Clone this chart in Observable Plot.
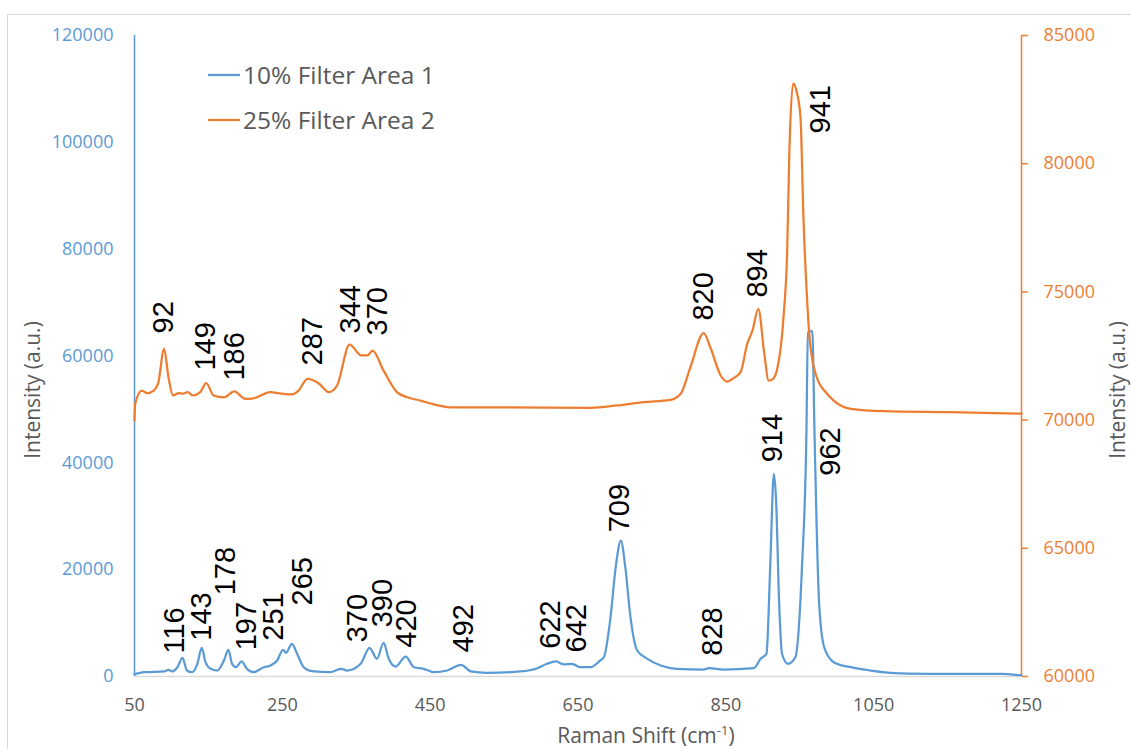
<!DOCTYPE html>
<html>
<head>
<meta charset="utf-8">
<script src="https://cdn.jsdelivr.net/npm/d3@7"></script>
<script src="https://cdn.jsdelivr.net/npm/@observablehq/plot@0.6"></script>
<style>
  html, body { margin: 0; padding: 0; background: white; }
  #wrap { position: relative; width: 1131px; height: 749px; overflow: hidden; }
  #frame { position: absolute; left: 7px; top: 14px; width: 1200px; height: 800px;
           border-left: 1px solid #d9d9d9; border-top: 1px solid #d9d9d9; }
  #chart { position: absolute; left: 0; top: 0; }
</style>
</head>
<body>
<div id="wrap"><div id="frame"></div><div id="chart"></div></div>
<script>
// ---- Series 1: 10% Filter Area 1 (left axis) ----
const blueShift = [50,63,90,96,101,108,115,121,128,135,141,146,153,162,171,177,182,187,195,202,211,225,234,243,251,255,263,270,279,290,315,329,338,356,368,378,387,394,403,417,428,441,450,455,473,492,505,527,572,595,608,620,631,642,653,667,680,685,694,701,708,714,721,730,744,762,784,820,827,847,888,897,905,910,915,918,922,926,934,944,953,959,961,967,970,976,983,996,1019,1046,1086,1154,1222,1250];
const blueIntensity = [400,800,940,1250,940,1740,3500,1120,800,2380,5370,2680,1440,1120,3000,5000,2380,1740,2810,1440,800,1740,2060,3000,5000,4440,6120,4250,1740,990,800,1440,1120,2380,5370,3310,6310,3310,1870,3740,1740,1440,990,800,1120,2190,940,690,940,1550,2380,2810,2250,2380,1740,1740,3000,3610,11100,20460,25460,20460,11100,4870,3310,2060,1440,1310,1550,1310,1550,3310,4250,20460,37950,32950,14230,4250,2380,3610,20460,45430,64450,64640,45430,14230,5490,2680,1740,1120,600,500,470,190];

// ---- Series 2: 25% Filter Area 2 (right axis) ----
const orangeShift = [50,51,60,67,76,82,90,96,102,110,115,122,129,139,147,157,171,185,200,211,234,243,263,272,284,299,313,324,341,357,365,372,387,405,419,437,455,477,667,703,739,775,789,802,820,829,843,852,861,870,879,886,894,902,908,914,919,928,933,936,941,946,951,955,960,964,973,987,996,1019,1064,1154,1250];
const orangeIntensity = [69980,70650,71150,71050,71150,71430,72780,71670,70960,71050,71030,71090,70960,71090,71440,70960,70890,71120,70830,70850,71090,71050,71000,71150,71610,71440,71090,71350,72940,72520,72520,72710,71930,71090,70890,70760,70610,70500,70480,70570,70700,70790,71030,72060,73390,72840,71740,71500,71650,71870,72980,73490,74340,72590,71540,71610,71930,74010,76610,80510,83120,82790,81810,77910,74660,72980,71670,71030,70760,70440,70350,70310,70250];

// ---- Peak labels ----
const blueLabelText = ["116","143","178","197","251","265","370","390","420","492","622","642","709","828","914","962"];
const blueLabelX    = [104,141,174,202,239,277,352,386,418,495,613,648,707,832,913,992];
const blueLabelY    = [4300,6700,15200,4900,6700,13300,6400,9200,5400,4500,5200,4500,27000,3900,40100,37600];

const orangeLabelText = ["92","149","186","287","344","370","820","894","941"];
const orangeLabelX    = [89,146,185,291,342,379,820,893,978];
const orangeLabelY    = [73380,71930,71540,72130,73380,73300,73880,74780,81180];

// ---- Axes ----
const xTicks = [50,250,450,650,850,1050,1250];
const leftTicks = [0,20000,40000,60000,80000,100000,120000];
const rightTicks = [60000,65000,70000,75000,80000,85000];
const rightDomain = [60000,85000];
const leftDomain = [0,120000];

const seriesNames = ["10% Filter Area 1","25% Filter Area 2"];
const colors = ["#5B9BD5","#ED7D31"];

// map secondary-axis values onto the primary y scale
const k = (leftDomain[1]-leftDomain[0])/(rightDomain[1]-rightDomain[0]);
const toLeft = v => (v - rightDomain[0]) * k;
const fromLeft = v => v / k + rightDomain[0];

const blue = blueShift.map((x,i)=>({x, y: blueIntensity[i]}));
const orange = orangeShift.map((x,i)=>({x, y: toLeft(orangeIntensity[i])}));
const blueLabels = blueLabelText.map((t,i)=>({t, x: blueLabelX[i], y: blueLabelY[i]}));
const orangeLabels = orangeLabelText.map((t,i)=>({t, x: orangeLabelX[i], y: toLeft(orangeLabelY[i])}));

const chart = Plot.plot({
  width: 1131, height: 749,
  marginLeft: 134, marginRight: 110, marginTop: 35, marginBottom: 73,
  x: {domain: [50,1250]},
  y: {domain: leftDomain},
  style: {fontFamily: "Open Sans", background: "transparent", overflow: "visible"},
  marks: [
    Plot.ruleY([0], {stroke: "#d9d9d9", strokeWidth: 1.5}),
    Plot.axisX({ticks: xTicks, tickSize: 0, tickPadding: 22, fontSize: 18, fill: "#595959", label: null, tickFormat: "d"}),
    Plot.axisY({ticks: leftTicks, tickSize: 0, tickPadding: 21, fontSize: 18, fill: "#5B9BD5", label: null, tickFormat: "d"}),
    Plot.axisY(rightTicks.map(toLeft), {anchor: "right", tickSize: 6, tickPadding: 16, fontSize: 18, fill: "#ED7D31", stroke: "#ED7D31", strokeWidth: 1.5, label: null, tickFormat: d => String(Math.round(fromLeft(d)))}),
    Plot.ruleX([50], {stroke: colors[0], strokeWidth: 1.5}),
    Plot.ruleX([1250], {stroke: colors[1], strokeWidth: 1.5}),
    Plot.line(blue, {x: "x", y: "y", stroke: colors[0], strokeWidth: 2.25, curve: "monotone-x"}),
    Plot.line(orange, {x: "x", y: "y", stroke: colors[1], strokeWidth: 2.25, curve: "monotone-x"}),
    Plot.text(blueLabels, {x: "x", y: "y", text: "t", rotate: -90, textAnchor: "start", lineAnchor: "middle", fontSize: 29, fontFamily: "Liberation Sans", fill: "black"}),
    Plot.text(orangeLabels, {x: "x", y: "y", text: "t", rotate: -90, textAnchor: "start", lineAnchor: "middle", fontSize: 29, fontFamily: "Liberation Sans", fill: "black"})
  ]
});
document.getElementById("chart").appendChild(chart);

const svg = d3.select(chart);
// axis titles
svg.append("text").attr("transform", "translate(40,390) rotate(-90)")
  .attr("text-anchor", "middle").attr("font-size", 21).attr("fill", "#595959")
  .attr("font-family", "Open Sans").text("Intensity (a.u.)");
svg.append("text").attr("transform", "translate(1125,390) rotate(-90)")
  .attr("text-anchor", "middle").attr("font-size", 21).attr("fill", "#595959")
  .attr("font-family", "Open Sans").text("Intensity (a.u.)");
const xt = svg.append("text").attr("x", 646).attr("y", 743)
  .attr("text-anchor", "middle").attr("font-size", 21).attr("fill", "#595959")
  .attr("font-family", "Open Sans");
xt.append("tspan").text("Raman Shift (cm");
xt.append("tspan").attr("font-size", 13).attr("dy", -8).text("-1");
xt.append("tspan").attr("dy", 8).text(")");

// legend
seriesNames.forEach((name, i) => {
  const y = 75 + i * 45;
  svg.append("line").attr("x1", 208).attr("x2", 240).attr("y1", y).attr("y2", y)
    .attr("stroke", colors[i]).attr("stroke-width", 2.25);
  svg.append("text").attr("x", 243).attr("y", y + 9).attr("font-size", 24.5)
    .attr("text-anchor", "start")
    .attr("fill", "#595959").attr("font-family", "Open Sans").text(name);
});
</script>
</body>
</html>
